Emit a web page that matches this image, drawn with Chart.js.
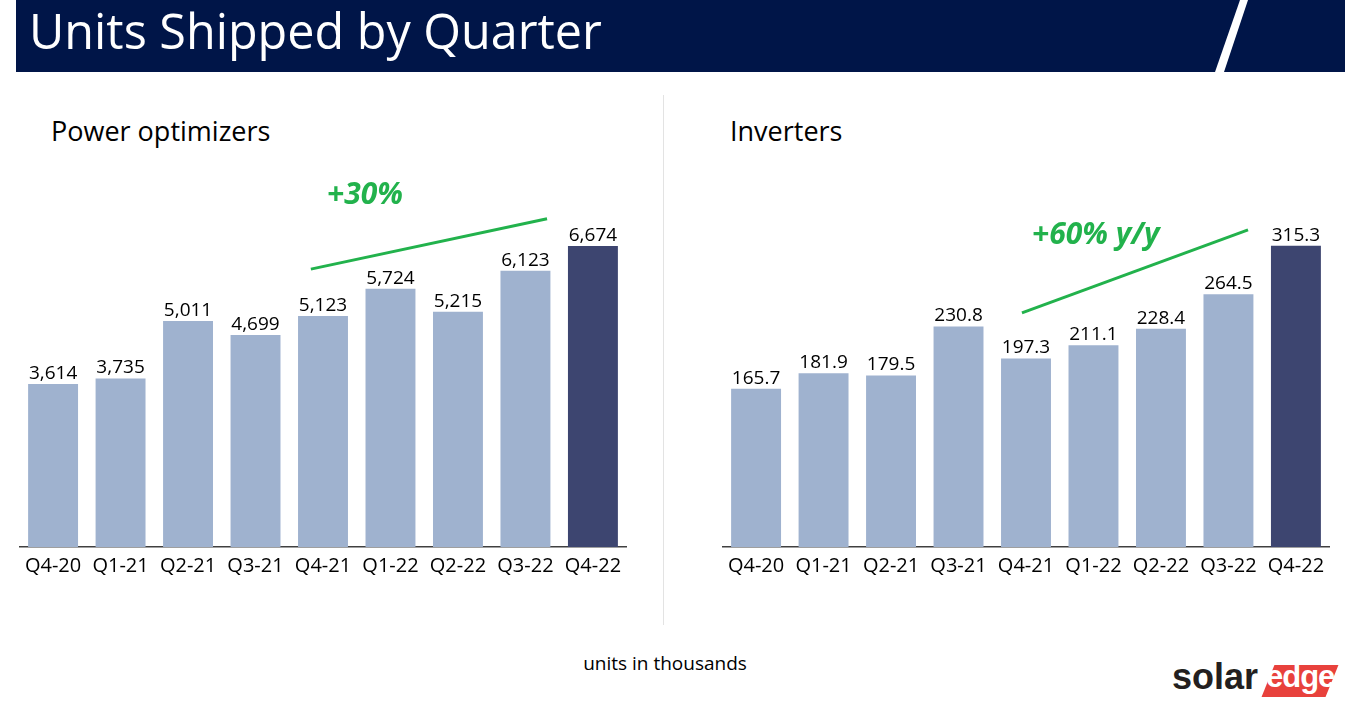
<!DOCTYPE html>
<html><head><meta charset="utf-8">
<script src="https://cdn.jsdelivr.net/npm/chart.js@4.4.0/dist/chart.umd.min.js"></script>
<style>
html,body{margin:0;padding:0;background:#fff;width:1345px;height:703px;overflow:hidden;font-family:"Open Sans","Noto Sans",sans-serif;}
#hdr{position:absolute;left:16px;top:0;width:1329px;height:72px;background:#001548;}
#slash{position:absolute;left:0;top:0;width:1345px;height:72px;}
#title{position:absolute;left:29px;top:-6px;color:#fff;font-size:48.5px;line-height:72px;white-space:nowrap;}
.sub{position:absolute;top:113px;font-size:27px;color:#000;line-height:36px;white-space:nowrap;}
#divider{position:absolute;left:663px;top:95px;width:1px;height:530px;background:#e3e3e3;}
#units{position:absolute;left:0;width:1330px;top:650px;text-align:center;font-size:19px;color:#000;}
canvas{position:absolute;}
#logo{position:absolute;left:1170px;top:660px;height:40px;width:170px;}
#solar{position:absolute;left:2px;top:-4px;font-family:"Liberation Sans",Arial,sans-serif;font-weight:bold;font-size:36px;color:#231f20;}
#edgebox{position:absolute;left:98px;top:5px;width:64px;height:32px;background:#e8413c;transform:skewX(-22deg);}
#edge{position:absolute;left:96px;top:-1px;font-family:"Liberation Sans",Arial,sans-serif;font-weight:bold;font-size:31px;letter-spacing:-1px;color:#fff;}
</style></head>
<body>
<div id="hdr"></div>
<svg id="slash" width="1345" height="72"><polygon points="1240,0 1248,0 1224,72 1215,72" fill="#fff"/></svg>
<div id="title">Units Shipped by Quarter</div>
<div class="sub" style="left:51px">Power optimizers</div>
<div class="sub" style="left:730px">Inverters</div>
<div id="divider"></div>
<canvas id="c1" width="610" height="444" style="left:18px;top:141px;width:610px;height:444px"></canvas>
<canvas id="c2" width="610" height="444" style="left:721px;top:141px;width:610px;height:444px"></canvas>
<div id="units">units in thousands</div>
<div id="logo"><span id="solar">solar</span><div id="edgebox"></div><span id="edge">edge</span></div>
<script>
const quarters = ["Q4-20","Q1-21","Q2-21","Q3-21","Q4-21","Q1-22","Q2-22","Q3-22","Q4-22"];
const optimizers = [3614, 3735, 5011, 4699, 5123, 5724, 5215, 6123, 6674];
const inverters = [165.7, 181.9, 179.5, 230.8, 197.3, 211.1, 228.4, 264.5, 315.3];
// trend annotation: [categoryIndex, value] start/end, text anchor
const optTrend = {from:[3.82, 6160], to:[7.32, 7275], text:"+30%", at:[4.06, 7800]};
const invTrend = {from:[3.94, 245], to:[7.29, 332], text:"+60% y/y", at:[4.09, 326]};

const LIGHT = "#9fb2cf", DARK = "#3d4570", GREEN = "#22b24c";
const FONT = '"Open Sans","Noto Sans",sans-serif';

const labelPlugin = {
  id:'labels',
  afterDatasetsDraw(chart, args, opts){
    const ctx = chart.ctx;
    const meta = chart.getDatasetMeta(0);
    ctx.save();
    ctx.font = '19px ' + FONT;
    ctx.fillStyle = '#000';
    ctx.textAlign = 'center';
    ctx.textBaseline = 'bottom';
    meta.data.forEach((bar, i) => {
      ctx.fillText(opts.fmt(chart.data.datasets[0].data[i]), bar.x, bar.y - 1);
    });
    const t = opts.trend, xs = chart.scales.x, ys = chart.scales.y;
    ctx.strokeStyle = GREEN; ctx.lineWidth = 3;
    ctx.beginPath();
    ctx.moveTo(xs.getPixelForValue(t.from[0]), ys.getPixelForValue(t.from[1]));
    ctx.lineTo(xs.getPixelForValue(t.to[0]), ys.getPixelForValue(t.to[1]));
    ctx.stroke();
    ctx.font = 'italic bold 30px ' + FONT;
    ctx.fillStyle = GREEN; ctx.textAlign = 'left'; ctx.textBaseline = 'middle';
    ctx.fillText(t.text, xs.getPixelForValue(t.at[0]), ys.getPixelForValue(t.at[1]));
    ctx.restore();
  }
};

function makeChart(id, values, max, fmt, trend){
  return new Chart(document.getElementById(id), {
    type:'bar',
    data:{labels:quarters, datasets:[{data:values,
      backgroundColor: values.map((v,i)=> i===values.length-1 ? DARK : LIGHT),
      barPercentage:0.74, categoryPercentage:1.0, borderWidth:0}]},
    options:{
      responsive:false, animation:false,
      layout:{padding:0},
      plugins:{legend:{display:false}, tooltip:{enabled:false}, labels:{fmt, trend}},
      scales:{
        x:{grid:{display:false, drawTicks:false}, border:{display:true, color:'#404040', width:1.5},
           ticks:{color:'#000', font:{size:20, family:FONT}, padding:7, maxRotation:0, autoSkip:false}},
        y:{display:false, min:0, max:max}
      }
    },
    plugins:[labelPlugin]
  });
}
makeChart('c1', optimizers, 9000, v => v.toLocaleString('en-US'), optTrend);
makeChart('c2', inverters, 425, v => v.toFixed(1), invTrend);
</script>
</body></html>
